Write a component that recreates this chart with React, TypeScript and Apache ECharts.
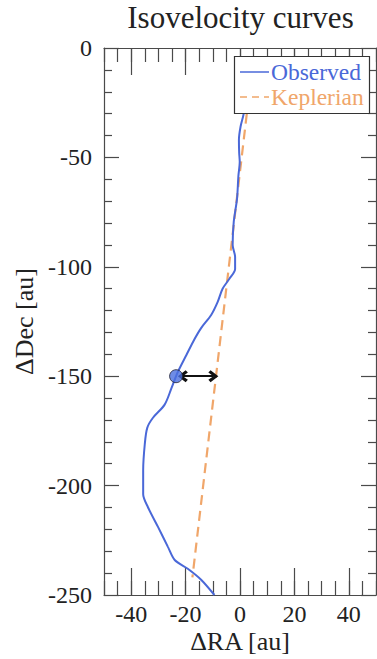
import React, { useEffect, useRef } from "react";
import * as echarts from "echarts";

const obsRA = [1.5, 1.2, 0.2, -0.4, -0.3, -0.1, -0.6, -1.1, -2.3, -2.7, -1.8, -1.8, -3.9, -6.4, -8.2, -10.6, -14.3, -16.7, -19.7, -22.8, -23.5, -25.2, -27.7, -32, -34.1, -35, -35.6, -35.6, -33.8, -30.1, -26.5, -24, -19.2, -14.3, -9.4];
const obsDec = [-29, -31, -36, -42, -48, -52, -58.6, -69, -79.5, -90, -95.5, -101, -105.5, -110, -116, -122, -128, -133, -140.3, -147.9, -150, -155.5, -163, -169, -173.6, -181, -193, -204, -210, -219, -228, -234, -238, -243, -250];
const kepRA = [2.5, -17.5];
const kepDec = [-30, -242];
const markerPoint = [-23.5, -150];
const arrowFrom = [-21, -150];
const arrowTo = [-9.8, -150];
const xMajorTicks = [-40, -20, 0, 20, 40];
const seriesNames = ["Observed", "Keplerian"];

const BLUE = "#4a68d8";
const ORANGE = "#f0a66a";
const AXIS = "#4a4a4a";
const FONT = "Liberation Serif";

export default function App() {
  const ref = useRef<HTMLDivElement>(null);
  useEffect(() => {
    const chart = echarts.init(ref.current!, null, { renderer: "svg" });
    const obs = obsRA.map((x, i) => [x, obsDec[i]]);
    const kep = kepRA.map((x, i) => [x, kepDec[i]]);
    const baseX = {
      type: "value",
      min: -50,
      max: 50,
      splitLine: { show: false },
    };
    const baseY = {
      type: "value",
      min: -250,
      max: 0,
      interval: 50,
      splitLine: { show: false },
      axisLine: { show: true, onZero: false, lineStyle: { color: AXIS, width: 1.2 } },
      axisTick: { show: true, inside: true, length: 15, lineStyle: { color: AXIS, width: 1.2 } },
      minorTick: { show: true, splitNumber: 5, length: 8, lineStyle: { color: AXIS, width: 1.2 } },
    };
    chart.setOption({
      animation: false,
      textStyle: { fontFamily: FONT },
      grid: { left: 104, top: 48, width: 272, height: 550 },
      xAxis: [
        {
          ...baseX,
          position: "bottom",
          interval: 5,
          axisLine: { show: true, onZero: false, lineStyle: { color: AXIS, width: 1.2 } },
          axisTick: { show: true, inside: true, length: 14, lineStyle: { color: AXIS, width: 1.2 } },
          axisLabel: { show: false },
          name: "ΔRA [au]",
          nameLocation: "middle",
          nameGap: 33,
          nameTextStyle: { fontFamily: FONT, fontSize: 26, color: "#222" },
        },
        {
          ...baseX,
          position: "bottom",
          axisLine: { show: false, onZero: false },
          axisTick: { show: true, inside: true, length: 27, customValues: xMajorTicks, lineStyle: { color: AXIS, width: 1.2 } },
          axisLabel: { show: true, customValues: xMajorTicks, margin: 7, fontFamily: FONT, fontSize: 24, color: "#222" },
        },
        {
          ...baseX,
          position: "top",
          interval: 5,
          axisLine: { show: true, onZero: false, lineStyle: { color: AXIS, width: 1.2 } },
          axisTick: { show: true, inside: true, length: 14, lineStyle: { color: AXIS, width: 1.2 } },
          axisLabel: { show: false },
        },
        {
          ...baseX,
          position: "top",
          axisLine: { show: false, onZero: false },
          axisTick: { show: true, inside: true, length: 27, customValues: xMajorTicks, lineStyle: { color: AXIS, width: 1.2 } },
          axisLabel: { show: false },
        },
      ],
      yAxis: [
        {
          ...baseY,
          position: "left",
          axisLabel: { show: true, margin: 12, fontFamily: FONT, fontSize: 24, color: "#222" },
          name: "ΔDec [au]",
          nameLocation: "middle",
          nameGap: 66,
          nameTextStyle: { fontFamily: FONT, fontSize: 26, color: "#222" },
        },
        {
          ...baseY,
          position: "right",
          axisLabel: { show: false },
        },
      ],
      series: [
        {
          name: seriesNames[0],
          type: "line",
          data: obs,
          smooth: 0.3,
          showSymbol: false,
          lineStyle: { color: BLUE, width: 2 },
          z: 3,
          markLine: {
            silent: true,
            symbol: ["path://M5,0 L10,7 L8,9 L5,4.5 L2,9 L0,7 Z", "path://M5,0 L10,7 L8,9 L5,4.5 L2,9 L0,7 Z"],
            symbolSize: [12, 10],
            label: { show: false },
            lineStyle: { color: "#111", width: 2, type: "solid" },
            data: [[{ coord: arrowFrom }, { coord: arrowTo }]],
          },
        },
        {
          name: seriesNames[1],
          type: "line",
          data: kep,
          showSymbol: false,
          lineStyle: { color: ORANGE, width: 2.2, type: [10, 6] },
          z: 2,
        },
        {
          name: "marker",
          type: "scatter",
          data: [markerPoint],
          symbolSize: 13,
          itemStyle: { color: "#4a6fe0", borderColor: "#223", borderWidth: 1 },
          z: 5,
        },
      ],
      graphic: [
        {
          type: "text",
          x: 240.5,
          y: 17,
          style: { text: "Isovelocity curves", font: `31px ${FONT}`, fill: "#222", textAlign: "center", textVerticalAlign: "middle" },
        },
        {
          type: "group",
          z: 100,
          children: [
            { type: "rect", shape: { x: 234.5, y: 56.5, width: 135, height: 57 }, style: { fill: "#fff", stroke: "#333", lineWidth: 1.2 }, z: 100 },
            { type: "line", shape: { x1: 240, y1: 72, x2: 269, y2: 72 }, style: { stroke: BLUE, lineWidth: 1.5 }, z: 101 },
            { type: "text", x: 271, y: 72, style: { text: seriesNames[0], font: `23.5px ${FONT}`, fill: BLUE, textVerticalAlign: "middle" }, z: 101 },
            { type: "line", shape: { x1: 240, y1: 97, x2: 269, y2: 97 }, style: { stroke: ORANGE, lineWidth: 1.5, lineDash: [7, 5] }, z: 101 },
            { type: "text", x: 271, y: 97, style: { text: seriesNames[1], font: `23.5px ${FONT}`, fill: ORANGE, textVerticalAlign: "middle" }, z: 101 },
          ],
        },
      ],
    });
    return () => chart.dispose();
  }, []);
  return (
    <div
      ref={ref}
      style={{ position: "fixed", left: 0, top: 0, width: 377, height: 659, background: "#fff" }}
    />
  );
}
